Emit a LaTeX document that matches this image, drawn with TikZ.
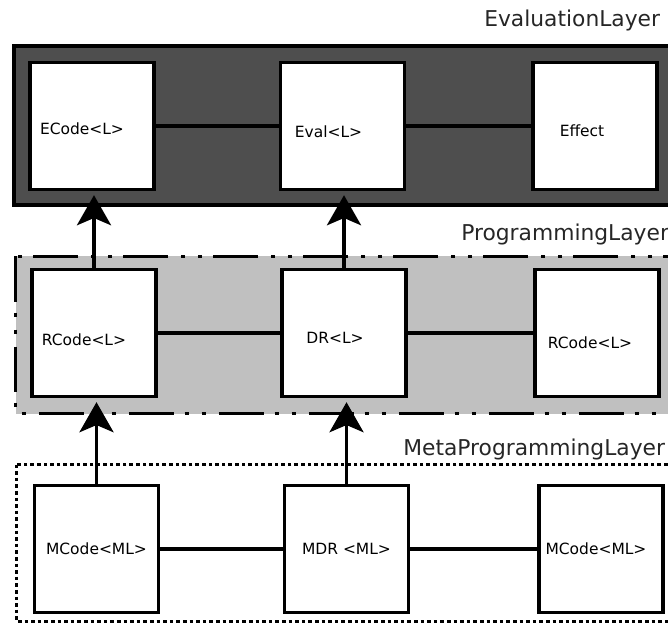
\documentclass[tikz,border=0pt]{standalone}
\usepackage{fontspec}
\setmainfont{DejaVu Sans}
\usepackage{tikz}
\usetikzlibrary{arrows.meta}
\definecolor{evalgray}{RGB}{78,78,78}
\definecolor{proggray}{RGB}{192,192,192}
\tikzset{
	blk/.style={draw,fill=white,line width=0.09cm,minimum width=3.1cm,minimum height=3.17cm,inner sep=0pt},
	boxtxt/.style={font=\fontsize{11}{12}\selectfont},
	lnk/.style={line width=0.09cm},
	arr/.style={line width=0.09cm,-{Stealth[length=0.75cm,width=0.85cm,inset=0.18cm]},shorten >=0.1cm},
	lay/.style={font=\fontsize{15.5}{18}\selectfont,anchor=base west,inner sep=0pt,text=black!85}
}
\begin{document}
\begin{tikzpicture}[x=0.025cm,y=-0.025cm]
				\path[use as bounding box,clip] (0,0) rectangle (668,628);
				\draw[line width=0.11cm,fill=evalgray] (14,46) rectangle (700,205);
				\draw[line width=0.085cm,fill=proggray,dash pattern=on 1.125cm off 0.275cm on 0.1cm off 0.325cm on 0.1cm off 0.325cm] (15.5,256.5) rectangle (700,413.5);
				\draw[line width=0.085cm,dash pattern=on 0.09cm off 0.075cm] (16.5,464.5) rectangle (700,621.5);
				\node[lay] (evlab) at (484,27) {EvaluationLayer};
				\node[lay] (prlab) at (461,241) {ProgrammingLayer};
				\node[lay] (mplab) at (403,455) {MetaProgrammingLayer};
				\node[blk,label={[boxtxt,xshift=-0.25cm,yshift=-0.075cm]center:ECode<L>}] (ecode) at (92,126) {};
				\node[blk,label={[boxtxt,xshift=-0.35cm,yshift=-0.15cm]center:Eval<L>}] (eval) at (342.5,126) {};
				\node[blk,label={[boxtxt,xshift=-0.325cm,yshift=-0.125cm]center:Effect}] (effect) at (595,126) {};
				\node[blk,label={[boxtxt,xshift=-0.25cm,yshift=-0.175cm]center:RCode<L>}] (rcode) at (94,333) {};
				\node[blk,label={[boxtxt,xshift=-0.225cm,yshift=-0.125cm]center:DR<L>}] (dr) at (344,333) {};
				\node[blk,label={[boxtxt,xshift=-0.175cm,yshift=-0.25cm]center:RCode<L>}] (rcodeb) at (597,333) {};
				\node[blk,label={[boxtxt]center:MCode<ML>}] (mcode) at (96.5,549) {};
				\node[blk,label={[boxtxt]center:MDR <ML>}] (mdr) at (346.5,549) {};
				\node[blk,label={[boxtxt,xshift=-0.125cm]center:MCode<ML>}] (mcodeb) at (601,549) {};
				\draw[lnk] (ecode) -- (eval);
				\draw[lnk] (eval) -- (effect);
				\draw[lnk] (rcode) -- (dr);
				\draw[lnk] (dr) -- (rcodeb);
				\draw[lnk] (mcode) -- (mdr);
				\draw[lnk] (mdr) -- (mcodeb);
				\draw[arr] (rcode.north) -- (rcode.north |- ecode.south);
				\draw[arr] (dr.north) -- (dr.north |- eval.south);
				\draw[arr] (mcode.north) -- (mcode.north |- rcode.south);
				\draw[arr] (mdr.north) -- (mdr.north |- dr.south);
			\end{tikzpicture}
\end{document}
